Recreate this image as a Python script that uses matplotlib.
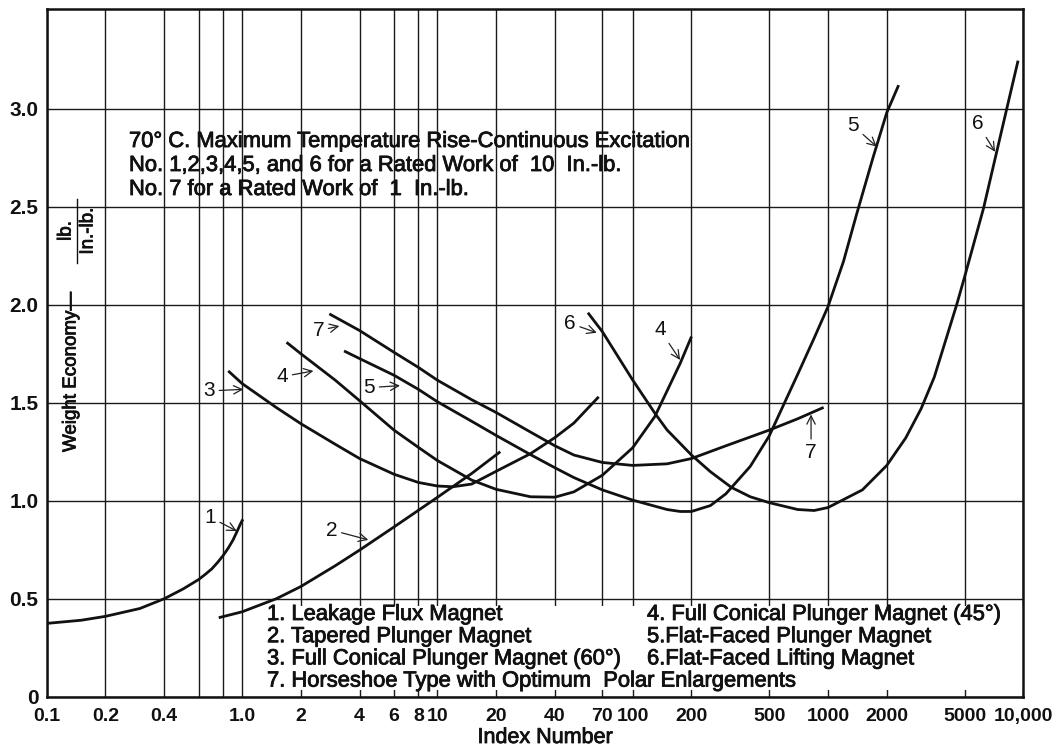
import numpy as np
import matplotlib
matplotlib.use('Agg')
import matplotlib.pyplot as plt
import matplotlib.patheffects as pe
from matplotlib.patches import Rectangle

plt.rcParams['font.family'] = ['Liberation Sans', 'DejaVu Sans']

# Curve data (index number, weight economy lb./in.-lb.)
c1_x = [0.1, 0.15, 0.2, 0.3, 0.4, 0.5, 0.6, 0.65, 0.7, 0.75, 0.8, 0.85, 0.9, 0.95,
        0.98, 1.01]
c1_y = [0.374, 0.39, 0.41, 0.45, 0.50, 0.55, 0.598, 0.625, 0.652, 0.685, 0.72, 0.758,
        0.80, 0.85, 0.88, 0.905]

c2_x = [0.76, 1.0, 1.5, 2, 3, 4, 6, 8, 10, 15, 21]
c2_y = [0.403, 0.433, 0.50, 0.562, 0.668, 0.748, 0.866, 0.951, 1.017, 1.139, 1.25]

c3_x = [0.85, 1.0, 1.5, 2, 3, 4, 6, 8, 10, 12, 15, 20, 30, 40, 50, 67]
c3_y = [1.662, 1.598, 1.475, 1.393, 1.288, 1.215, 1.135, 1.093, 1.075, 1.071, 1.085,
        1.15, 1.24, 1.322, 1.396, 1.53]

c4_x = [1.69, 2, 3, 4, 6, 8, 10, 15, 20, 30, 40, 50, 70, 100, 130, 175, 200]
c4_y = [1.808, 1.75, 1.615, 1.51, 1.36, 1.272, 1.205, 1.105, 1.058, 1.02, 1.018,
        1.045, 1.13, 1.27, 1.43, 1.70, 1.837]

c5_x = [3.33, 4, 6, 8, 10, 15, 20, 30, 40, 50, 70, 100, 150, 175, 200, 250, 300,
        400, 500, 700, 850, 1000, 1200, 1400, 1700, 2000, 2300]
c5_y = [1.764, 1.725, 1.64, 1.568, 1.505, 1.405, 1.333, 1.235, 1.168, 1.118, 1.055,
        1.003, 0.955, 0.945, 0.945, 0.975, 1.035, 1.175, 1.33, 1.645, 1.83, 1.99,
        2.22, 2.46, 2.75, 2.98, 3.12]

c6_x = [59, 70, 100, 130, 150, 200, 250, 320, 400, 500, 700, 850, 1000, 1500, 2000,
        2500, 3000, 3500, 4560, 5000, 6250, 8230, 9400]
c6_y = [1.959, 1.862, 1.616, 1.446, 1.361, 1.233, 1.148, 1.068, 1.02, 0.99, 0.955,
        0.95, 0.965, 1.055, 1.18, 1.32, 1.47, 1.63, 2.0, 2.14, 2.49, 3.0, 3.245]

c7_x = [2.8, 4, 6, 8, 10, 15, 20, 30, 40, 50, 70, 100, 150, 200, 300, 500, 700, 950]
c7_y = [1.953, 1.868, 1.757, 1.68, 1.615, 1.515, 1.45, 1.35, 1.28, 1.233, 1.195,
        1.18, 1.188, 1.215, 1.28, 1.36, 1.418, 1.476]

xtick_vals = [0.1, 0.2, 0.4, 1, 2, 4, 6, 8, 10, 20, 40, 70, 100, 200, 500, 1000,
              2000, 5000, 10000]
xtick_labs = ['0.1', '0.2', '0.4', '1.0', '2', '4', '6', '8', '10', '20', '40', '70',
              '100', '200', '500', '1000', '2000', '5000', '10,000']
xgrid_extra = [0.6, 0.8]
ytick_vals = [0, 0.5, 1.0, 1.5, 2.0, 2.5, 3.0]
ytick_labs = ['0', '0.5', '1.0', '1.5', '2.0', '2.5', '3.0']

# curve label: (text, text pos, arrow tip)
curve_labels = [
    ('1', (0.687, 0.916), (0.94, 0.845)),
    ('2', (2.88, 0.85), (4.43, 0.80)),
    ('3', (0.68, 1.56), (1.015, 1.568)),
    ('4', (1.61, 1.633), (2.32, 1.662)),
    ('7', (2.46, 1.867), (3.15, 1.891)),
    ('5', (4.49, 1.577), (6.44, 1.587)),
    ('6', (47.8, 1.905), (65.5, 1.857)),
    ('4', (138, 1.871), (175, 1.718)),
    ('5', (1349, 2.912), (1778, 2.806)),
    ('6', (5848, 2.922), (7172, 2.78)),
    ('7', (819, 1.245), (819, 1.44)),
]

legend_left = ['1. Leakage Flux Magnet', '2. Tapered Plunger Magnet',
               '3. Full Conical Plunger Magnet (60°)',
               '7. Horseshoe Type with Optimum  Polar Enlargements']
legend_right = ['4. Full Conical Plunger Magnet (45°)', '5.Flat-Faced Plunger Magnet',
                '6.Flat-Faced Lifting Magnet']
note_lines = ['70° C. Maximum Temperature Rise-Continuous Excitation',
              'No. 1,2,3,4,5, and 6 for a Rated Work of  10  In.-lb.',
              'No. 7 for a Rated Work of  1  In.-lb.']

ink = '#111111'
thick = [pe.withStroke(linewidth=0.6, foreground=ink)]

W, H = 1064, 747
fig = plt.figure(figsize=(W / 100, H / 100), dpi=100)
ax = fig.add_axes([46.7 / W, 1 - 696.7 / H, 976.6 / W, 687.4 / H])
ax.set_xscale('log')
ax.set_xlim(0.1, 10000)
ax.set_ylim(0, 3.507)

ax.set_xticks(xtick_vals)
ax.set_xticklabels(xtick_labs)
ax.set_xticks(xgrid_extra, minor=True)
ax.set_xticklabels(['', ''], minor=True)
ax.set_yticks(ytick_vals)
ax.set_yticklabels(ytick_labs)
ax.tick_params(which='both', length=0, labelcolor=ink)
ax.tick_params(axis='x', pad=8, labelsize=14)
ax.tick_params(axis='y', pad=6, labelsize=15)
for lab in ax.get_xticklabels() + ax.get_yticklabels():
    lab.set_fontweight('bold')

ax.set_axisbelow(True)
ax.grid(True, which='both', color='#1a1a1a', lw=1.0)
for s in ax.spines.values():
    s.set_linewidth(1.8)
    s.set_color(ink)

# white panel behind the legend text
ax.add_patch(Rectangle((1.13, 0.035), 10000 - 1.13, 0.43, facecolor='white',
                       edgecolor='none', zorder=1))

for cx, cy in [(c1_x, c1_y), (c2_x, c2_y), (c3_x, c3_y), (c4_x, c4_y),
               (c5_x, c5_y), (c6_x, c6_y), (c7_x, c7_y)]:
    ax.plot(cx, cy, color=ink, lw=2.0, solid_capstyle='butt',
            solid_joinstyle='round', zorder=3)

for txt, pos, tip in curve_labels:
    ax.annotate(txt, xy=tip, xytext=pos, ha='center', va='center', fontsize=15,
                color=ink, arrowprops=dict(arrowstyle='->', lw=0.9, color='#222222',
                                           shrinkA=1, shrinkB=0), zorder=4)

# note at top left
for i, line in enumerate(note_lines):
    fig.text(129 / W, 1 - (147 + 24 * i) / H, line, fontsize=15.8, va='baseline',
             ha='left', color=ink, path_effects=thick)

# legend text
for i, line in enumerate(legend_left):
    fig.text(267 / W, 1 - (620 + 22.2 * i) / H, line, fontsize=15.8, va='baseline',
             color=ink, path_effects=thick)
for i, line in enumerate(legend_right):
    fig.text(647 / W, 1 - (620 + 22.2 * i) / H, line, fontsize=15.8, va='baseline',
             color=ink, path_effects=thick)

# axis titles
fig.text(545 / W, 1 - 743 / H, 'Index Number', fontsize=15.5, ha='center',
         va='baseline', color=ink, path_effects=thick)
fig.text(71 / W, 1 - 372 / H, 'Weight Economy—', fontsize=13.5, rotation=90,
         ha='center', va='center', color=ink, path_effects=thick)
fig.text(66 / W, 1 - 231 / H, 'lb.', fontsize=13.5, rotation=90, ha='center',
         va='center', color=ink, path_effects=thick)
fig.text(88 / W, 1 - 231 / H, 'In.-lb.', fontsize=13.5, rotation=90, ha='center',
         va='center', color=ink, path_effects=thick)
fig.add_artist(plt.Line2D([77 / W, 77 / W], [1 - 263 / H, 1 - 199 / H],
                          color=ink, lw=1.0))

fig.savefig('out.png', dpi=100)
